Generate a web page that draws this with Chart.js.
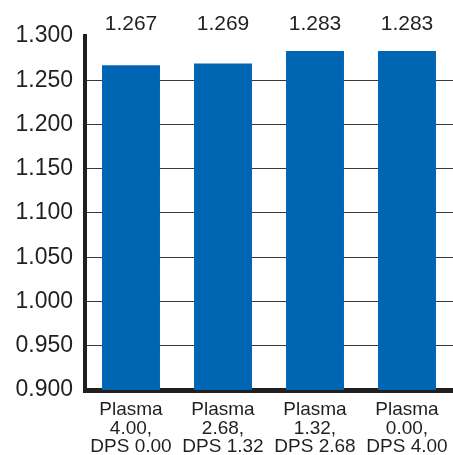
<!DOCTYPE html>
<html lang="en">
<head>
    <meta charset="UTF-8">
    <title>Plasma / DPS ratio</title>
    <style>
        html, body {
            margin: 0;
            padding: 0;
            background: #fff;
        }
        .chart-box {
            width: 453px;
            height: 455px;
            position: relative;
        }
    </style>
    <script src="https://cdn.jsdelivr.net/npm/chart.js"></script>
</head>
<body>
    <div class="chart-box">
        <canvas id="ratioChart"></canvas>
    </div>
    <script>
        const categories = [
            ['Plasma', '4.00,', 'DPS 0.00'],
            ['Plasma', '2.68,', 'DPS 1.32'],
            ['Plasma', '1.32,', 'DPS 2.68'],
            ['Plasma', '0.00,', 'DPS 4.00']
        ];
        const values = [1.267, 1.269, 1.283, 1.283];
        const yTicks = [0.900, 0.950, 1.000, 1.050, 1.100, 1.150, 1.200, 1.250, 1.300];

        const ink = '#231f20';
        const fontFamily = '"Liberation Sans", Arial, Helvetica, sans-serif';

        // value labels all sit on one row above the plot
        const topLabels = {
            id: 'topLabels',
            afterDatasetsDraw(chart) {
                const ctx = chart.ctx;
                const meta = chart.getDatasetMeta(0);
                ctx.save();
                ctx.fillStyle = ink;
                ctx.font = '21px ' + fontFamily;
                ctx.textAlign = 'center';
                ctx.textBaseline = 'middle';
                meta.data.forEach((bar, i) => {
                    ctx.fillText(values[i].toFixed(3), bar.x, chart.chartArea.top - 12);
                });
                ctx.restore();
            }
        };

        new Chart(document.getElementById('ratioChart'), {
            type: 'bar',
            data: {
                labels: categories,
                datasets: [{
                    data: values,
                    backgroundColor: '#0065b3',
                    borderWidth: 0,
                    categoryPercentage: 1,
                    barPercentage: 0.63
                }]
            },
            options: {
                responsive: true,
                maintainAspectRatio: false,
                animation: false,
                layout: {
                    padding: { top: 36, right: 0, bottom: 0, left: 0 }
                },
                plugins: {
                    legend: { display: false },
                    tooltip: { enabled: false }
                },
                scales: {
                    x: {
                        grid: { display: false, drawTicks: false },
                        border: { display: true, color: ink, width: 5 },
                        ticks: {
                            color: ink,
                            font: { family: fontFamily, size: 19, lineHeight: 0.96 },
                            padding: 11,
                            maxRotation: 0
                        },
                        afterFit(scale) {
                            scale.height = 65;
                            // plot runs right up to the canvas edge
                            scale.paddingLeft = 0;
                            scale.paddingRight = 0;
                        }
                    },
                    y: {
                        min: 0.9,
                        max: 1.3,
                        afterBuildTicks(scale) {
                            scale.ticks = yTicks.map(v => ({ value: v }));
                        },
                        grid: {
                            drawTicks: false,
                            lineWidth: 1,
                            color: c => (c.tick && c.tick.value >= 1.3) ? 'rgba(0,0,0,0)' : '#3a3a3a'
                        },
                        border: { display: true, color: ink, width: 4 },
                        ticks: {
                            color: ink,
                            font: { family: fontFamily, size: 23 },
                            padding: 12,
                            callback: v => Number(v).toFixed(3)
                        },
                        afterFit(scale) { scale.width = 85; }
                    }
                }
            },
            plugins: [topLabels]
        });
    </script>
</body>
</html>
